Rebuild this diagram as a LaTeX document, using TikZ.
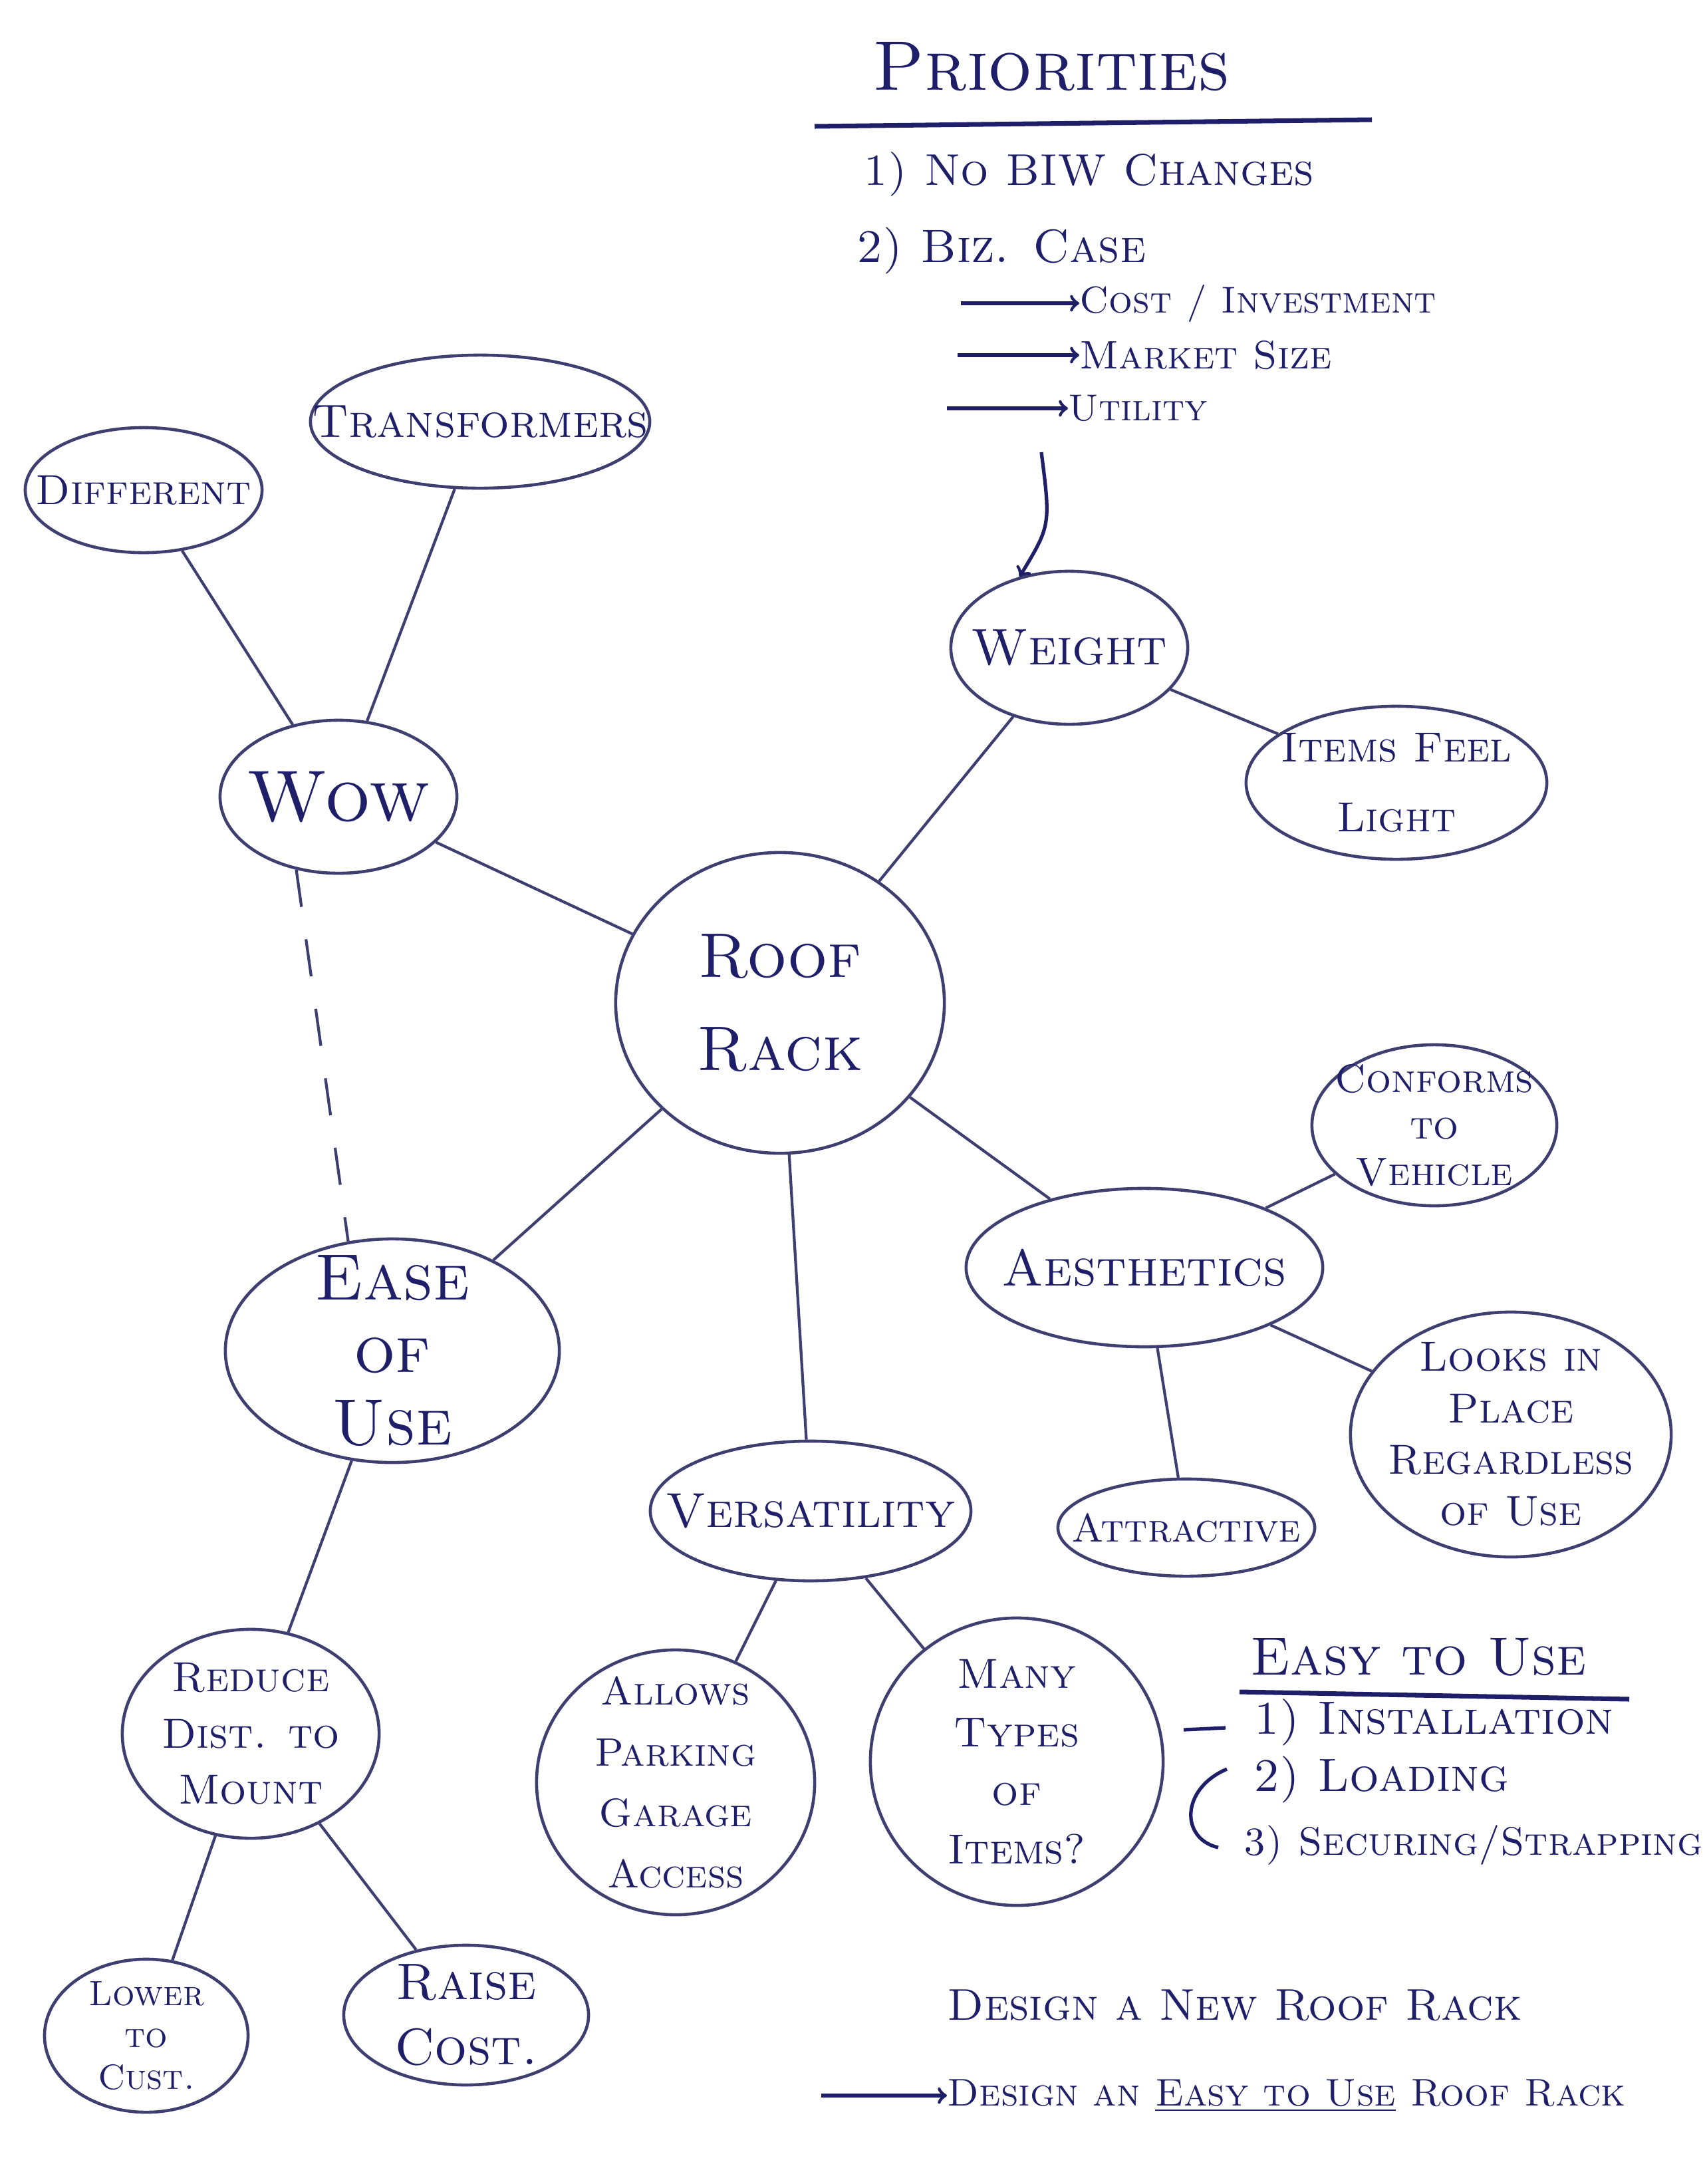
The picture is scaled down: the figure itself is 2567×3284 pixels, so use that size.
\documentclass[tikz,border=0pt]{standalone}
\usepackage{tikz}
\usetikzlibrary{positioning,shapes.geometric,calc}
\definecolor{ink}{RGB}{30,30,105}
\definecolor{rim}{RGB}{62,62,112}
\newcommand*{\hand}[2]{\fontsize{#1}{#2}\selectfont\scshape}

\begin{document}
\begin{tikzpicture}[x=0.01cm,y=-0.01cm,
		bubble/.style={ellipse,draw=rim,line width=1.3pt,inner xsep=-1.2cm,inner ysep=-0.3cm,align=center,text=ink},
		link/.style={draw=rim,line width=1.2pt},
		note/.style={text=ink,anchor=west,inner sep=0pt},
		pen/.style={draw=ink,line width=1.5pt}]
	\path[fill=white] (0,0) rectangle (2567,3284);
	\useasboundingbox (0,0) rectangle (2567,3284);

	\node[bubble,minimum width=4.94cm,minimum height=4.52cm,font=\hand{27}{40}] (rack) at (1173,1508) {Roof\\Rack};
	\node[bubble,minimum width=3.56cm,minimum height=2.3cm,font=\hand{31}{36}] (wow) at (509,1198) {Wow};
	\node[bubble,minimum width=3.56cm,minimum height=1.88cm,font=\hand{18}{20}] (diff) at (216,737) {Different};
	\node[bubble,minimum width=5.1cm,minimum height=2.0cm,font=\hand{20}{24}] (trans) at (722,634) {Transformers};
	\node[bubble,minimum width=3.56cm,minimum height=2.3cm,font=\hand{22}{24}] (weight) at (1608,974) {Weight};
	\node[bubble,minimum width=4.52cm,minimum height=2.3cm,font=\hand{18}{30}] (light) at (2100,1177) {Items Feel\\Light};
	\node[bubble,minimum width=5.02cm,minimum height=3.36cm,font=\hand{28}{31}] (ease) at (590,2031) {Ease\\of\\Use};
	\node[bubble,minimum width=5.36cm,minimum height=2.38cm,font=\hand{22}{24}] (aes) at (1721,1906) {Aesthetics};
	\node[bubble,minimum width=3.68cm,minimum height=2.42cm,font=\hand{17}{20}] (conf) at (2157,1692) {Conforms\\to\\Vehicle};
	\node[bubble,minimum width=4.82cm,minimum height=3.68cm,font=\hand{18}{22}] (looks) at (2272,2157) {Looks in\\Place\\Regardless\\of Use};
	\node[bubble,minimum width=3.86cm,minimum height=1.46cm,font=\hand{17}{20}] (attr) at (1784,2297) {Attractive};
	\node[bubble,minimum width=4.82cm,minimum height=2.1cm,font=\hand{21}{24}] (vers) at (1219,2272) {Versatility};
	\node[bubble,minimum width=4.18cm,minimum height=3.98cm,font=\hand{17}{26}] (park) at (1016,2680) {Allows\\Parking\\Garage\\Access};
	\node[bubble,minimum width=4.4cm,minimum height=4.32cm,font=\hand{18}{25}] (types) at (1529,2649) {Many\\Types\\of\\Items?};
	\node[bubble,minimum width=3.86cm,minimum height=3.14cm,font=\hand{18}{24}] (reduce) at (377,2607) {Reduce\\Dist. to\\Mount};
	\node[bubble,minimum width=3.06cm,minimum height=2.3cm,font=\hand{15}{18}] (lower) at (220,3061) {Lower\\to\\Cust.};
	\node[bubble,minimum width=3.68cm,minimum height=2.1cm,font=\hand{22}{28}] (raise) at (701,3030) {Raise\\Cost.};

	\foreach \a/\b in {wow/rack,wow/diff,wow/trans,rack/weight,weight/light,rack/ease,rack/vers,rack/aes,
		aes/conf,aes/looks,aes/attr,ease/reduce,vers/park,vers/types,reduce/lower,reduce/raise}
		\draw[link] (\a) -- (\b);
	\draw[link,dash pattern=on 16pt off 14pt] (wow.240) -- (ease.112);

	\node[note,anchor=center,font=\hand{30}{34}] (prio) at (1581,100) {Priorities};
	\draw[pen,line width=2pt] (1225,190) -- (2063,180);
	\node[note,font=\hand{19}{24}] (biw) at (1298,262) {1) No BIW Changes};
	\node[note,font=\hand{20}{24}] (biz) at (1288,377) {2) Biz. Case};
	\node[note,font=\hand{16}{20}] (cost) at (1623,456) {Cost / Investment};
	\node[note,font=\hand{17}{20}] (market) at (1623,534) {Market Size};
	\node[note,font=\hand{16}{20}] (util) at (1606,614) {Utility};
	\coordinate (c1) at (1445,456);
	\coordinate (c2) at (1440,534);
	\coordinate (c3) at (1424,614);
	\draw[pen,->] (c1) -- (cost.west);
	\draw[pen,->] (c2) -- (market.west);
	\draw[pen,->] (c3) -- (util.west);
	\coordinate (down) at (1566,680);
	\draw[pen,->] (down) .. controls (1580,790) .. (weight.125);

	\node[note,font=\hand{23}{26}] (easy) at (1880,2492) {Easy to Use};
	\draw[pen,line width=2pt] (1864,2544) -- (2450,2555);
	\node[note,font=\hand{20}{24}] (inst) at (1885,2590) {1) Installation};
	\node[note,font=\hand{20}{24}] (load) at (1885,2676) {2) Loading};
	\node[note,font=\hand{17}{24}] (secure) at (1870,2775) {3) Securing/Strapping};
	\draw[pen] (1780,2601) -- (1843,2598);
	\draw[pen] (1845,2660) .. controls (1775,2690) and (1775,2765) .. (1832,2778);

	\node[note,font=\hand{19}{24}] (goal) at (1424,3015) {Design a New Roof Rack};
	\node[note,font=\hand{16.5}{22}] (goal2) at (1424,3151) {Design an \underline{Easy to Use} Roof Rack};
	\coordinate (g0) at (1235,3151);
	\draw[pen,->] (g0) -- (goal2.west);
\end{tikzpicture}
\end{document}
